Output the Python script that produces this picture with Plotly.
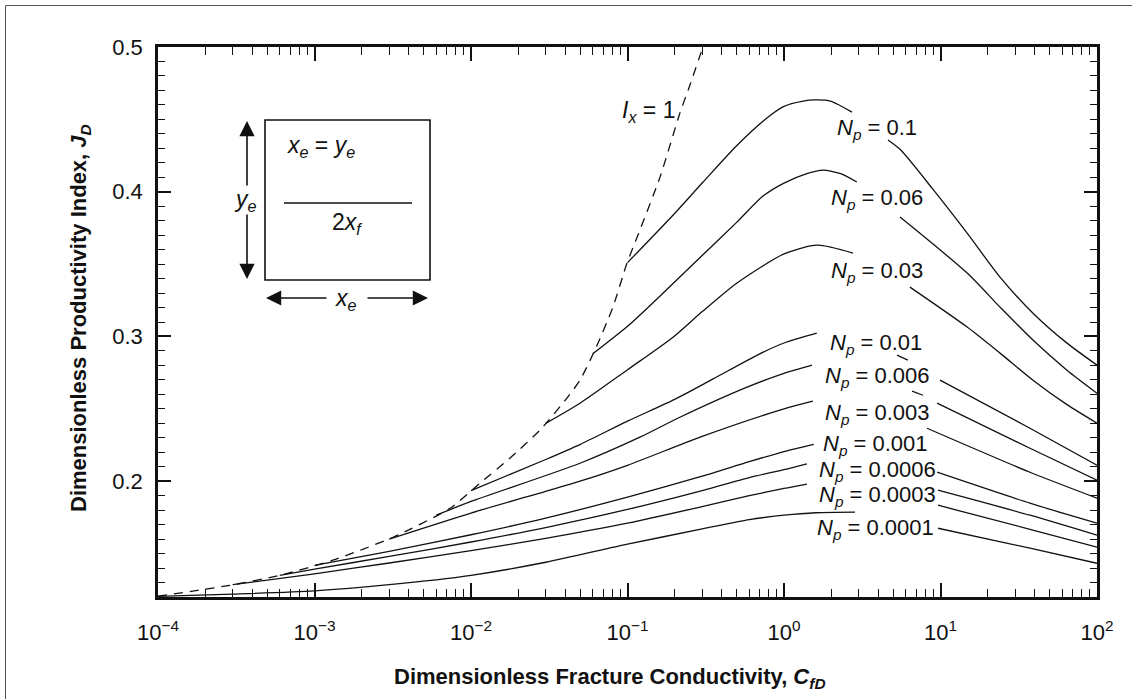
import math
import plotly.graph_objects as go

# ---------------- data ----------------
NP_LABELS = ["0.1", "0.06", "0.03", "0.01", "0.006", "0.003", "0.001", "0.0006", "0.0003", "0.0001"]

# Ix = 1 boundary (dashed)
IX1_CFD = [1e-4, 2.88e-4, 6.03e-4, 1.31e-3, 3.18e-3, 7.35e-3, 0.0114, 0.0177, 0.0276, 0.0410,
           0.0497, 0.0619, 0.0807, 0.0993, 0.120, 0.1614, 0.2163, 0.2506, 0.3034]
IX1_JD = [0.1205, 0.1281, 0.135, 0.1454, 0.1613, 0.1813, 0.1986, 0.2159, 0.2353, 0.2574,
          0.2698, 0.2906, 0.3203, 0.3507, 0.3735, 0.4101, 0.4544, 0.4737, 0.5]

# Np curves (None = gap where the label sits)
NP_0_1_CFD = [0.1, 0.2, 0.3, 0.5, 0.8, 1.0, 1.3, 1.6, 2.0, 2.72, None, 4.62, 5.57, 8.83, 14.8, 24.0, 39.0, 64.3, 100]
NP_0_1_JD = [0.351, 0.385, 0.406, 0.432, 0.452, 0.459, 0.4625, 0.4634, 0.4625, 0.455, None, 0.4357, 0.4288, 0.4025, 0.3714, 0.341, 0.3161, 0.2954, 0.2802]

NP_0_06_CFD = [0.06, 0.1, 0.169, 0.3, 0.5, 0.734, 1.0, 1.4, 1.77, 2.3, 2.92, None, 5.51, 14.8, 24.0, 39.0, 64.3, 100]
NP_0_06_JD = [0.288, 0.307, 0.330, 0.356, 0.379, 0.397, 0.406, 0.4125, 0.415, 0.4125, 0.4067, None, 0.3825, 0.3438, 0.3203, 0.2975, 0.2767, 0.2608]

NP_0_03_CFD = [0.03, 0.0497, 0.1, 0.1954, 0.299, 0.501, 1.0, 1.63, 2.76, None, 6.38, 14.8, 24.0, 39.0, 64.3, 100]
NP_0_03_JD = [0.240, 0.2539, 0.277, 0.2995, 0.317, 0.337, 0.357, 0.3631, 0.3576, None, 0.3341, 0.3065, 0.2885, 0.2698, 0.2529, 0.2401]

NP_0_01_CFD = [0.01, 0.03, 0.05, 0.1, 0.2, 0.35, 0.7, 1.0, 1.62, None, 5.27, 6.19, None, 9.93, 37.3, 100]
NP_0_01_JD = [0.1935, 0.215, 0.2255, 0.2415, 0.2565, 0.2705, 0.288, 0.2955, 0.3023, None, 0.2871, 0.2836, None, 0.2698, 0.2366, 0.2111]

NP_0_006_CFD = [0.006, 0.01, 0.0497, 0.12, 0.216, 0.581, 1.0, 1.51, None, 6.58, 7.73, None, 9.51, 37.3, 100]
NP_0_006_JD = [0.1765, 0.186, 0.2124, 0.2304, 0.2442, 0.265, 0.2745, 0.2802, None, 0.2622, 0.2594, None, 0.2539, 0.2228, 0.2007]

NP_0_003_CFD = [0.003, 0.01, 0.03, 0.0497, 0.1, 0.3, 1.0, 1.53, None, 8.2, 37.3, 100]
NP_0_003_JD = [0.160, 0.178, 0.193, 0.200, 0.211, 0.231, 0.250, 0.2553, None, 0.2366, 0.2062, 0.1883]

NP_0_001_CFD = [0.001, 0.003, 0.01, 0.03, 0.1, 0.3, 0.6, 1.0, 1.55, None, 9.51, 37.3, 100]
NP_0_001_JD = [0.1418, 0.1515, 0.1630, 0.1745, 0.1890, 0.2035, 0.2135, 0.2205, 0.2255, None, 0.2062, 0.1848, 0.1710]

NP_0_0006_CFD = [0.0006, 0.001, 0.003, 0.01, 0.03, 0.1, 0.3, 0.6, 1.0, 1.40, None, 9.64, 37.3, 100]
NP_0_0006_JD = [0.135, 0.1393, 0.1480, 0.1580, 0.1680, 0.1805, 0.1935, 0.2025, 0.2080, 0.2120, None, 0.1938, 0.1765, 0.1627]

NP_0_0003_CFD = [0.0003, 0.001, 0.003, 0.01, 0.03, 0.1, 0.3, 0.6, 1.0, 1.40, None, 9.64, 37.3, 100]
NP_0_0003_JD = [0.1285, 0.1360, 0.1435, 0.1520, 0.1605, 0.1710, 0.1825, 0.1900, 0.1950, 0.1980, None, 0.1834, 0.1668, 0.1544]

NP_0_0001_CFD = [0.0001, 0.0003, 0.001, 0.003, 0.01, 0.03, 0.1, 0.3, 0.6, 1.0, 1.6, 2.84, None, 9.64, 37.3, 100]
NP_0_0001_JD = [0.1205, 0.1220, 0.1242, 0.1285, 0.1350, 0.1440, 0.1565, 0.1670, 0.1735, 0.1765, 0.1782, 0.1786, None, 0.1675, 0.1537, 0.1433]

X_TICKVALS = [1e-4, 1e-3, 1e-2, 1e-1, 1e0, 1e1, 1e2]
X_TICKTEXT = ["10<sup>\u22124</sup>", "10<sup>\u22123</sup>", "10<sup>\u22122</sup>", "10<sup>\u22121</sup>",
              "10<sup>0</sup>", "10<sup>1</sup>", "10<sup>2</sup>"]
Y_TICKVALS = [0.2, 0.3, 0.4, 0.5]
Y_TICKTEXT = ["0.2", "0.3", "0.4", "0.5"]

# label positions (data coords, centre of text)
LABEL_CFD = [3.9, 3.9, 3.9, 3.85, 3.95, 3.95, 3.85, 3.95, 3.95, 3.85]
LABEL_JD = [0.4433, 0.3949, 0.3445, 0.2947, 0.2719, 0.2463, 0.2252, 0.2073, 0.1900, 0.1668]

CURVES = [
    (NP_0_1_CFD, NP_0_1_JD), (NP_0_06_CFD, NP_0_06_JD), (NP_0_03_CFD, NP_0_03_JD),
    (NP_0_01_CFD, NP_0_01_JD), (NP_0_006_CFD, NP_0_006_JD), (NP_0_003_CFD, NP_0_003_JD),
    (NP_0_001_CFD, NP_0_001_JD), (NP_0_0006_CFD, NP_0_0006_JD), (NP_0_0003_CFD, NP_0_0003_JD),
    (NP_0_0001_CFD, NP_0_0001_JD),
]

# ---------------- geometry ----------------
W, H = 1132, 699
L, R, T, B = 158, 1097, 47, 597


def px(x):
    return (x - L) / (R - L)


def py(y):
    return (B - y) / (B - T)


FONT = "Liberation Sans, Arial, Helvetica, sans-serif"
NARROW = "Liberation Sans Narrow, Arial Narrow, Liberation Sans, Arial, sans-serif"

fig = go.Figure()

fig.add_trace(go.Scatter(x=IX1_CFD, y=IX1_JD, mode="lines",
                         line=dict(color="#111", width=1.3, dash="9px,7px", shape="spline", smoothing=0.6),
                         hoverinfo="skip", showlegend=False))

for (cx, cy), lab in zip(CURVES, NP_LABELS):
    fig.add_trace(go.Scatter(x=cx, y=cy, mode="lines", name="Np = " + lab,
                             line=dict(color="#111", width=1.3, shape="spline", smoothing=0.7),
                             connectgaps=False, showlegend=False))

# overlay axes so that minor ticks also appear on the top and right frame
fig.add_trace(go.Scatter(x=[1.0], y=[0.3], xaxis="x2", yaxis="y2", mode="lines",
                         hoverinfo="skip", showlegend=False))

annotations = []
for lab, lx, ly in zip(NP_LABELS, LABEL_CFD, LABEL_JD):
    annotations.append(dict(x=math.log10(lx), y=ly, xref="x", yref="y",
                            text="<i>N</i><sub><i>p</i></sub> = " + lab, showarrow=False,
                            font=dict(family=FONT, size=22, color="#111"),
                            xanchor="center", yanchor="middle"))

annotations.append(dict(x=px(648), y=py(112), xref="paper", yref="paper",
                        text="<i>I</i><sub><i>x</i></sub> = 1", showarrow=False,
                        font=dict(family=FONT, size=23, color="#111"), xanchor="center", yanchor="middle"))

# axis titles
annotations.append(dict(x=px(610), y=py(678), xref="paper", yref="paper",
                        text="<b>Dimensionless Fracture Conductivity, <i>C</i><sub><i>fD</i></sub></b>",
                        showarrow=False, font=dict(family=NARROW, size=22, color="#111"),
                        xanchor="center", yanchor="middle"))
annotations.append(dict(x=px(80), y=py(318), xref="paper", yref="paper",
                        text="<b>Dimensionless Productivity Index, <i>J</i><sub><i>D</i></sub></b>",
                        showarrow=False, textangle=-90, font=dict(family=NARROW, size=22, color="#111"),
                        xanchor="center", yanchor="middle"))

# inset texts
inset_font = dict(family=FONT, size=23, color="#111")
annotations += [
    dict(x=px(321), y=py(146), xref="paper", yref="paper", text="<i>x<sub>e</sub></i> = <i>y<sub>e</sub></i>",
         showarrow=False, font=inset_font, xanchor="center", yanchor="middle"),
    dict(x=px(245), y=py(200), xref="paper", yref="paper", text="<i>y<sub>e</sub></i>",
         showarrow=False, font=inset_font, xanchor="center", yanchor="middle"),
    dict(x=px(347), y=py(224), xref="paper", yref="paper", text="2<i>x<sub>f</sub></i>",
         showarrow=False, font=inset_font, xanchor="center", yanchor="middle"),
    dict(x=px(346), y=py(299), xref="paper", yref="paper", text="<i>x<sub>e</sub></i>",
         showarrow=False, font=inset_font, xanchor="center", yanchor="middle"),
]
# inset arrows
arrow_common = dict(xref="paper", yref="paper", text="", showarrow=True, arrowhead=2, arrowsize=1.9,
                    arrowwidth=1.6, arrowcolor="#111", standoff=0, startstandoff=0)
annotations += [
    dict(x=px(247), y=py(121), ax=0, ay=66, **arrow_common),
    dict(x=px(247), y=py(279), ax=0, ay=-66, **arrow_common),
    dict(x=px(266), y=py(298), ax=62, ay=0, **arrow_common),
    dict(x=px(428), y=py(298), ax=-62, ay=0, **arrow_common),
]

shapes = [
    dict(type="rect", xref="paper", yref="paper", x0=px(265), x1=px(430), y0=py(280), y1=py(120),
         line=dict(color="#111", width=1.6)),
    dict(type="line", xref="paper", yref="paper", x0=px(284), x1=px(412), y0=py(203), y1=py(203),
         line=dict(color="#111", width=1.4)),
    # thin outer frame of the figure
    dict(type="rect", xref="paper", yref="paper", x0=px(5.5), x1=px(1145), y0=py(720), y1=py(5.5),
         line=dict(color="#555", width=1)),
]

minor_x = [k * 10 ** e for e in range(-4, 2) for k in range(2, 10)]

fig.update_layout(
    width=W, height=H,
    margin=dict(l=L, r=W - R, t=T, b=H - B, autoexpand=False),
    paper_bgcolor="white", plot_bgcolor="white",
    font=dict(family=FONT, color="#111"),
    annotations=annotations, shapes=shapes,
    showlegend=False,
)

x_common = dict(type="log", range=[-4, 2], showgrid=False, zeroline=False,
                ticks="inside", ticklen=14, tickwidth=1.6, tickcolor="#111",
                tickmode="array", tickvals=X_TICKVALS,
                minor=dict(tickmode="array", tickvals=minor_x, ticks="inside", ticklen=8, tickwidth=1.4,
                           tickcolor="#111", showgrid=False))
y_common = dict(range=[0.12, 0.5], showgrid=False, zeroline=False,
                ticks="inside", ticklen=13, tickwidth=1.6, tickcolor="#111",
                tickmode="array", tickvals=Y_TICKVALS,
                minor=dict(dtick=0.01, tick0=0, ticks="inside", ticklen=7, tickwidth=1.4,
                           tickcolor="#111", showgrid=False))

fig.update_layout(
    xaxis=dict(**x_common, showline=True, linecolor="#111", linewidth=2.6, mirror=True,
               ticktext=X_TICKTEXT, tickfont=dict(family=FONT, size=22, color="#111"), ticklabelstandoff=14),
    yaxis=dict(**y_common, showline=True, linecolor="#111", linewidth=2.6, mirror=True,
               ticktext=Y_TICKTEXT, tickfont=dict(family=FONT, size=22, color="#111"), ticklabelstandoff=8),
    xaxis2=dict(**x_common, overlaying="x", side="top", anchor="y2", showticklabels=False, showline=False),
    yaxis2=dict(**y_common, overlaying="y", side="right", anchor="x2", showticklabels=False, showline=False),
)

fig.write_html("out.html")
